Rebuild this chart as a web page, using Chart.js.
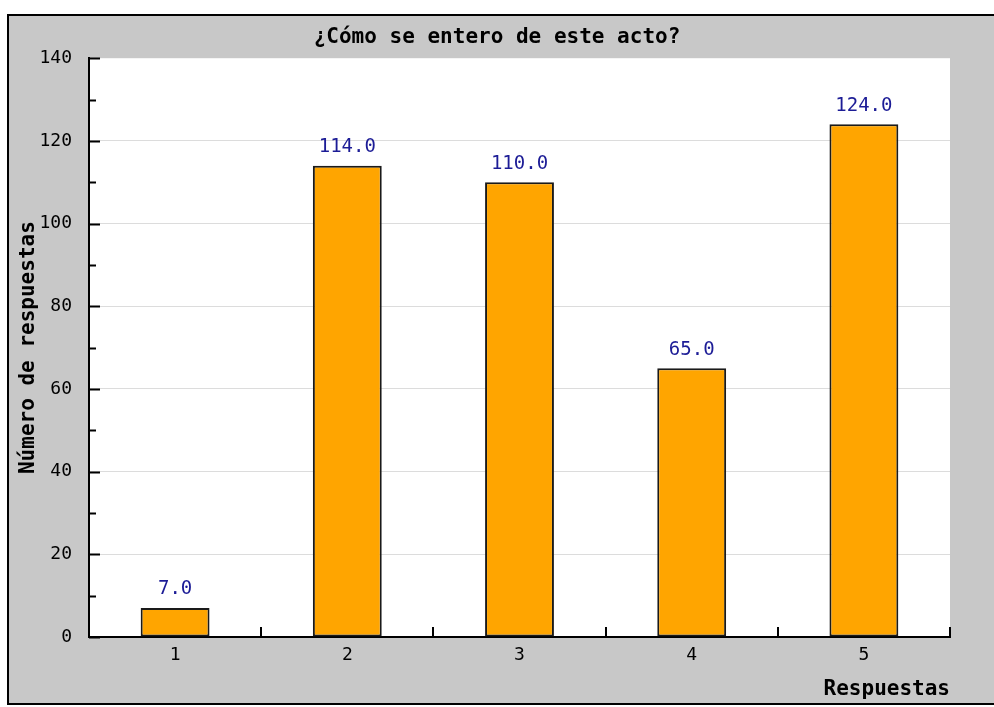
<!DOCTYPE html>
<html>
<head>
<meta charset="utf-8">
<script src="https://cdn.jsdelivr.net/npm/chart.js@4"></script>
<style>
  html, body { margin: 0; padding: 0; background: #fff; }
  #wrap { width: 994px; height: 707px; }
</style>
</head>
<body>
<div id="wrap"><canvas id="chart" width="994" height="707"></canvas></div>
<script>
const categories = ["1", "2", "3", "4", "5"];
const respuestas = [7, 114, 110, 65, 124];
const yTicks = [0, 20, 40, 60, 80, 100, 120, 140];

const monoFont = "'DejaVu Sans Mono', 'Liberation Mono', monospace";
Chart.defaults.font.family = monoFont;
Chart.defaults.color = "#000";

// gray frame behind the chart
const framePlugin = {
  id: "frame",
  beforeDraw(chart) {
    const ctx = chart.ctx;
    ctx.save();
    ctx.fillStyle = "#c8c8c8";
    ctx.fillRect(8, 15, 1000, 689);
    ctx.strokeStyle = "#000";
    ctx.lineWidth = 2;
    ctx.strokeRect(8, 15, 1000, 689);
    const a = chart.chartArea;
    ctx.fillStyle = "#fff";
    ctx.fillRect(a.left, a.top, a.right - a.left, a.bottom - a.top);
    ctx.restore();
  },
};

// inward ticks on both axes + value labels above bars
const marksPlugin = {
  id: "marks",
  afterDatasetsDraw(chart) {
    const ctx = chart.ctx;
    const x = chart.scales.x;
    const y = chart.scales.y;
    const a = chart.chartArea;
    ctx.save();
    ctx.strokeStyle = "#000";
    ctx.lineWidth = 2;
    for (let v = 0; v <= 140; v += 10) {
      const py = Math.round(y.getPixelForValue(v)) + 0.5;
      const len = v % 20 === 0 ? 11 : 7;
      ctx.beginPath();
      ctx.moveTo(a.left, py);
      ctx.lineTo(a.left + len, py);
      ctx.stroke();
    }
    for (let i = 0; i <= categories.length; i++) {
      const px = Math.round(x.getPixelForValue(i - 0.5));
      ctx.beginPath();
      ctx.moveTo(px, a.bottom);
      ctx.lineTo(px, a.bottom - 10);
      ctx.stroke();
    }
    const meta = chart.getDatasetMeta(0);
    ctx.fillStyle = "#1c1c96";
    ctx.font = "19px " + monoFont;
    ctx.textAlign = "center";
    ctx.textBaseline = "bottom";
    meta.data.forEach((bar, i) => {
      ctx.fillText(respuestas[i].toFixed(1), bar.x, bar.y - 9);
    });
    ctx.restore();
  },
};

new Chart(document.getElementById("chart"), {
  type: "bar",
  data: {
    labels: categories,
    datasets: [{
      data: respuestas,
      backgroundColor: "#ffa500",
      borderColor: "#1a1a1a",
      borderWidth: 2,
      borderSkipped: false,
      categoryPercentage: 1,
      barPercentage: 0.4,
    }],
  },
  options: {
    responsive: false,
    animation: false,
    layout: { padding: { top: 16, left: 0, right: 0, bottom: 4 } },
    plugins: {
      legend: { display: false },
      tooltip: { enabled: false },
      title: {
        display: true,
        text: "¿Cómo se entero de este acto?",
        font: { size: 21, weight: "bold", family: monoFont },
        color: "#000",
        padding: { top: 9, bottom: 8 },
      },
    },
    scales: {
      x: {
        grid: { display: false, drawTicks: false },
        border: { display: true, color: "#000", width: 2 },
        ticks: { padding: 8, font: { size: 18 } },
        title: {
          display: true,
          text: "Respuestas",
          align: "end",
          font: { size: 21, weight: "bold" },
          padding: { top: 0, bottom: 1 },
        },
        afterFit(scale) { scale.height = 66; },
      },
      y: {
        min: 0,
        max: 140,
        afterBuildTicks(scale) { scale.ticks = yTicks.map(v => ({ value: v })); },
        grid: {
          drawTicks: false,
          color: ctx => (ctx.tick && (ctx.tick.value === 0 || ctx.tick.value === 140)) ? "rgba(0,0,0,0)" : "#dcdcdc",
        },
        border: { display: true, color: "#000", width: 2 },
        ticks: { padding: 17, font: { size: 18 } },
        title: {
          display: true,
          text: "Número de respuestas",
          font: { size: 21, weight: "bold" },
          padding: { top: 16 },
        },
        afterFit(scale) { scale.width = 89; },
      },
      // empty right-hand axis that only reserves the gray margin
      yRight: {
        position: "right",
        display: true,
        grid: { display: false, drawTicks: false },
        border: { display: false },
        ticks: { display: false },
        afterFit(scale) { scale.width = 44; },
      },
    },
  },
  plugins: [framePlugin, marksPlugin],
});
</script>
</body>
</html>
